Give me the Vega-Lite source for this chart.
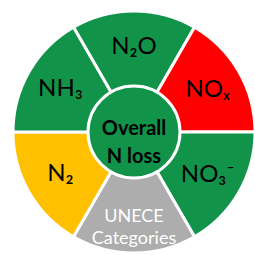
{
  "$schema": "https://vega.github.io/schema/vega-lite/v6.json",
  "width": 268,
  "height": 264,
  "autosize": "none",
  "padding": 0,
  "background": "white",
  "config": {"view": {"stroke": null}},
  "layer": [
    {
      "data": {"values": [
        {"name": "N₂O", "v": 1, "k": 1},
        {"name": "NOₓ", "v": 1, "k": 2},
        {"name": "NO₃⁻", "v": 1, "k": 3},
        {"name": "UNECE\nCategories", "v": 1, "k": 4},
        {"name": "N₂", "v": 1, "k": 5},
        {"name": "NH₃", "v": 1, "k": 6}
      ]},
      "encoding": {
        "theta": {"field": "v", "type": "quantitative", "stack": true, "scale": {"range": [-0.5236, 5.7596]}},
        "order": {"field": "k", "type": "quantitative"}
      },
      "layer": [
        {
          "mark": {"type": "arc", "outerRadius": 121, "stroke": "white", "strokeWidth": 3},
          "encoding": {
            "color": {"field": "name", "type": "nominal", "legend": null,
              "scale": {"domain": ["N₂O", "NOₓ", "NO₃⁻", "UNECE\nCategories", "N₂", "NH₃"],
                        "range": ["#12934A", "#FF0000", "#12934A", "#ADADAD", "#FFC000", "#12934A"]}}
          }
        },
        {
          "mark": {"type": "text", "radius": 85, "font": "Lato", "lineBreak": "\n", "lineHeight": 22, "baseline": "middle", "align": "center"},
          "encoding": {
            "text": {"field": "name"},
            "color": {"condition": {"test": "indexof(datum.name, 'UNECE') >= 0", "value": "white"}, "value": "black"},
            "size": {"condition": {"test": "indexof(datum.name, 'UNECE') >= 0", "value": 18}, "value": 24}
          }
        }
      ]
    },
    {
      "data": {"values": [{"v": 1}]},
      "mark": {"type": "arc", "theta": 0, "theta2": 6.2832, "outerRadius": 46, "fill": "#12934A", "stroke": "white", "strokeWidth": 3},
      "encoding": {}
    },
    {
      "data": {"values": [{"t": "Overall\nN loss"}]},
      "mark": {"type": "text", "font": "Lato", "fontWeight": "bold", "fontSize": 20, "lineBreak": "\n", "lineHeight": 28, "baseline": "middle", "align": "center", "color": "black", "dy": -3},
      "encoding": {"text": {"field": "t"}}
    }
  ]
}
